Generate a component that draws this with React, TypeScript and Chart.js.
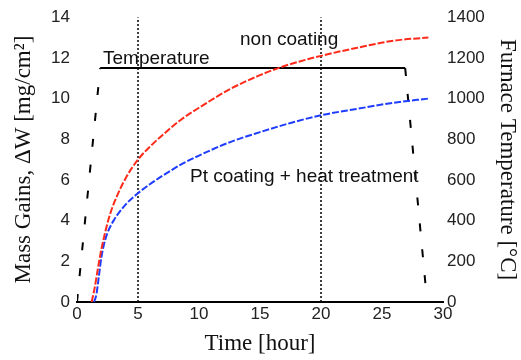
import React, { useEffect, useRef } from "react";
import { Chart, registerables } from "chart.js";

Chart.register(...registerables);

// Time [hour] and Mass gain [mg/cm2]
const nonCoatingTime = [1.2, 1.45, 1.7, 2.0, 2.3, 2.7, 3.2, 4, 5, 6, 7, 8.5, 10, 12.5, 15, 17, 20, 23, 26, 28.8];
const nonCoatingGain = [0, 0.7, 1.6, 2.6, 3.4, 4.3, 5.1, 6.1, 7.0, 7.65, 8.2, 8.95, 9.55, 10.45, 11.15, 11.6, 12.1, 12.5, 12.85, 13.0];

const ptTime = [1.4, 1.6, 1.8, 2.0, 2.2, 2.5, 3.0, 4.0, 5, 6, 7, 8.5, 10, 12.5, 15, 17.5, 20, 23, 26, 28.8];
const ptGain = [0, 0.4, 1.3, 2.2, 2.8, 3.4, 4.0, 4.8, 5.35, 5.8, 6.2, 6.75, 7.2, 7.85, 8.35, 8.8, 9.18, 9.5, 9.8, 10.0];

// Furnace temperature profile [°C]
const tempTime = [0, 1.9, 26.9, 28.7];
const tempValue = [0, 1150, 1150, 0];

// Reference times marked with dotted lines
const markTimes = [5, 20];

const xTicks = { min: 0, max: 30, step: 5 };
const yTicks = { min: 0, max: 14, step: 2 };
const y2Ticks = { min: 0, max: 1400, step: 200 };

const labels = [
  { text: "Temperature", x: 2.13, y: 11.71 },
  { text: "non coating", x: 13.36, y: 12.62 },
  { text: "Pt coating + heat treatment", x: 9.26, y: 5.9 },
];

const sansFont = "'Liberation Sans', Arial, sans-serif";
const serifFont = "'Liberation Serif', 'Times New Roman', serif";

const labelPlugin = {
  id: "labels",
  afterDatasetsDraw(chart: any) {
    const { ctx, scales } = chart;
    ctx.save();
    ctx.font = `19px ${sansFont}`;
    ctx.fillStyle = "#111";
    ctx.textBaseline = "alphabetic";
    ctx.textAlign = "left";
    for (const l of labels) {
      ctx.fillText(l.text, scales.x.getPixelForValue(l.x), scales.y.getPixelForValue(l.y));
    }
    ctx.restore();
  },
};

const plain = (v: any) => String(v);

export default function App() {
  const ref = useRef<HTMLCanvasElement>(null);
  useEffect(() => {
    if (!ref.current) return;
    const toXY = (xs: number[], ys: number[]) => xs.map((x, i) => ({ x, y: ys[i] }));
    const datasets: any[] = [
      {
        label: "non coating",
        data: toXY(nonCoatingTime, nonCoatingGain),
        borderColor: "#ff2a1a",
        borderWidth: 2,
        borderDash: [7, 2],
        pointRadius: 0,
        cubicInterpolationMode: "monotone",
        yAxisID: "y",
      },
      {
        label: "Pt coating + heat treatment",
        data: toXY(ptTime, ptGain),
        borderColor: "#1f3cff",
        borderWidth: 2,
        borderDash: [7, 2],
        pointRadius: 0,
        cubicInterpolationMode: "monotone",
        yAxisID: "y",
      },
      {
        label: "Temperature",
        data: toXY(tempTime, tempValue),
        borderColor: "#000",
        borderWidth: 2,
        pointRadius: 0,
        tension: 0,
        yAxisID: "y2",
        segment: {
          borderDash: (c: any) => (c.p0DataIndex === 1 ? [] : [8, 18]),
        },
      },
      ...markTimes.map((t) => ({
        label: "mark" + t,
        data: [
          { x: t, y: yTicks.min },
          { x: t, y: yTicks.max },
        ],
        borderColor: "#000",
        borderWidth: 1.5,
        borderDash: [2, 2],
        pointRadius: 0,
        yAxisID: "y",
      })),
    ];
    const chart = new Chart(ref.current, {
      type: "line",
      data: { datasets },
      plugins: [labelPlugin],
      options: {
        animation: false,
        responsive: false,
        layout: { padding: { top: 17, left: 0, right: 0, bottom: 0 } },
        plugins: { legend: { display: false }, tooltip: { enabled: false } },
        scales: {
          x: {
            type: "linear",
            min: xTicks.min,
            max: xTicks.max,
            ticks: { stepSize: xTicks.step, color: "#222", padding: 2, callback: plain, font: { family: sansFont, size: 17 } },
            grid: { display: false, drawTicks: false },
            border: { display: true, color: "#000", width: 2 },
            title: { display: true, text: "Time [hour]", color: "#111", font: { family: serifFont, size: 23 }, padding: { top: 0, bottom: 2 } },
            afterFit: (s: any) => { s.height = 58; },
          },
          y: {
            type: "linear",
            position: "left",
            min: yTicks.min,
            max: yTicks.max,
            ticks: { stepSize: yTicks.step, color: "#222", padding: 7, callback: plain, font: { family: sansFont, size: 17 } },
            grid: { display: false, drawTicks: false },
            border: { display: false },
            title: { display: true, text: "Mass Gains, ΔW [mg/cm²]", color: "#111", font: { family: serifFont, size: 23 }, padding: { top: 10, bottom: 0 } },
            afterFit: (s: any) => { s.width = 77; },
          },
          y2: {
            type: "linear",
            position: "right",
            min: y2Ticks.min,
            max: y2Ticks.max,
            ticks: { stepSize: y2Ticks.step, color: "#222", padding: 4, callback: plain, font: { family: sansFont, size: 17 } },
            grid: { display: false, drawTicks: false },
            border: { display: false },
            title: { display: true, text: "Furnace Temperature [°C]", color: "#111", font: { family: serifFont, size: 23 }, padding: { top: 0, bottom: 0 } },
            afterFit: (s: any) => { s.width = 78; },
          },
        },
      } as any,
    });
    return () => chart.destroy();
  }, []);
  return (
    <div style={{ position: "absolute", left: 0, top: 0, width: 521, height: 360, background: "#fff" }}>
      <canvas ref={ref} width={521} height={360} />
    </div>
  );
}
